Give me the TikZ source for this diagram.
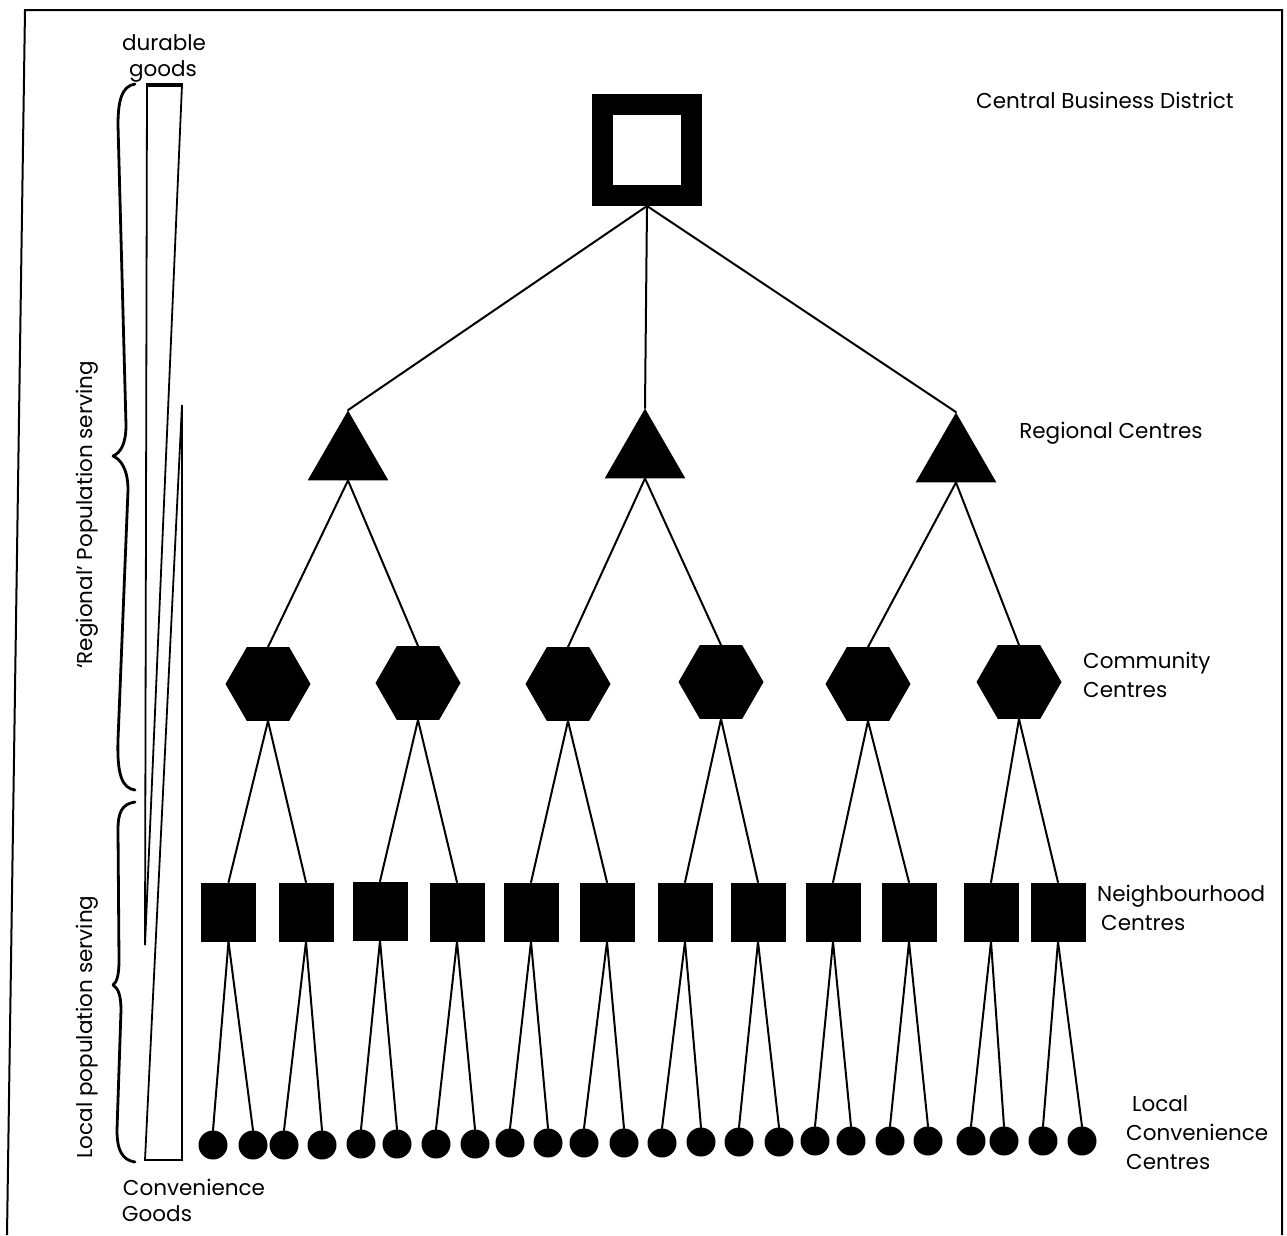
\documentclass[tikz,border=0pt]{standalone}
\usepackage{fontspec}
\setmainfont{Poppins}
\usetikzlibrary{shapes.geometric}
\begin{document}
\begin{tikzpicture}[x=1pt,y=-1pt,
  conn/.style={line width=2pt,line cap=round},
  lbl/.style={inner sep=0pt,font=\fontsize{21.5}{29}\selectfont},
  cbdbox/.style={draw,line width=21pt,minimum width=89pt,minimum height=91pt,inner sep=0pt},
  tri/.style={regular polygon,regular polygon sides=3,fill=black,minimum size=93pt,inner sep=0pt},
  hexa/.style={regular polygon,regular polygon sides=6,fill=black,minimum size=85pt,inner sep=0pt},
  sqr/.style={rectangle,fill=black,minimum width=55pt,minimum height=59pt,inner sep=0pt},
  dot/.style={circle,fill=black,minimum size=29pt,inner sep=0pt},
  brc/.style={line width=2.8pt,line cap=round,line join=round}
]
\useasboundingbox (0,0) rectangle (1287,1235);
% frame
\draw[line width=2pt] (7,1235) -- (25,10) -- (1282,10) -- (1282,1235);

% nodes
\node[cbdbox] (cbd) at (647,150) {};
\node[tri] (r1) at (348,457) {};
\node[tri] (r2) at (645,455) {};
\node[tri] (r3) at (956,459) {};
\foreach \i/\x/\y in {1/268/684,2/418/683,3/568/684,4/721/682,5/868/684,6/1019/682}
  \node[hexa] (c\i) at (\x,\y) {};
\foreach \i/\x/\y in {1/228.5/912,2/306/912,3/380/911,4/457/912,5/531/912,6/607/912,7/685/912,8/758/912,9/833/912,10/909/912,11/991/912,12/1058/912}
  \node[sqr] (n\i) at (\x,\y) {};
\foreach \i/\x/\y in {1/213/1145,2/253/1145,3/284/1145,4/322/1145,5/361/1144,6/397/1144,7/436/1144,8/475/1144,9/510/1143,10/548/1143,11/584/1143,12/624/1143,13/662/1143,14/701/1142,15/739/1142,16/779/1142,17/815/1141,18/851/1141,19/890/1141,20/928/1141,21/971/1141,22/1004/1141,23/1043/1141,24/1082/1141}
  \node[dot] (l\i) at (\x,\y) {};

% connectors
\foreach \j in {1,2,3} \draw[conn] (cbd.south) -- (r\j.north);
\foreach \p/\a/\b in {1/1/2,2/3/4,3/5/6} {
  \draw[conn] (r\p.south) -- (c\a.north);
  \draw[conn] (r\p.south) -- (c\b.north);
}
\foreach \p in {1,...,6} {
  \pgfmathtruncatemacro{\a}{2*\p-1}
  \pgfmathtruncatemacro{\b}{2*\p}
  \draw[conn] (c\p.south) -- (n\a.north);
  \draw[conn] (c\p.south) -- (n\b.north);
}
\foreach \p in {1,...,12} {
  \pgfmathtruncatemacro{\a}{2*\p-1}
  \pgfmathtruncatemacro{\b}{2*\p}
  \draw[conn] (n\p.south) -- (l\a.north);
  \draw[conn] (n\p.south) -- (l\b.north);
}

% wedges
\draw[line width=1.8pt] (147,85) -- (145,945);
\draw[line width=1.8pt] (182,85) -- (145,945);
\draw[line width=3.5pt] (146,85) -- (183,85);
\draw[line width=1.8pt] (182,405) -- (182,1160);
\draw[line width=1.8pt] (182,405) -- (145,1160);
\draw[line width=2.6pt] (144,1160) -- (183,1160);

% braces
\draw[brc] (135,84) .. controls (122,86) and (118,100) .. (118,125) -- (126,425)
  .. controls (126,445) and (120,453) .. (113,456)
  .. controls (120,459) and (128,468) .. (128,490) -- (118,740)
  .. controls (117,775) and (122,788) .. (135,790);
\draw[brc] (135,802) .. controls (122,804) and (118,812) .. (118,830) -- (119,960)
  .. controls (119,975) and (117,982) .. (113,985)
  .. controls (118,988) and (121,995) .. (121,1010) -- (117,1130)
  .. controls (117,1150) and (122,1160) .. (135,1162);

% labels
\node[lbl] (tdur1) at (164,43) {durable};
\node[lbl] (tdur2) at (163,71) {goods};
\node[lbl] (tcon1) at (194,1187) {Convenience};
\node[lbl] (tcon2) at (157,1214) {Goods};
\node[lbl,rotate=90] (treg) at (87,515) {`Regional' Population serving};
\node[lbl,rotate=90] (tloc) at (87,1027) {Local population serving};
\node[lbl] (tcbd) at (1105,100) {Central Business District};
\node[lbl] (trc) at (1111,433) {Regional Centres};
\node[lbl,align=left,anchor=west] (tcc) at (1083,675) {Community\\Centres};
\node[lbl,align=left,anchor=west] (tnc) at (1097,908) {Neighbourhood\\\hspace*{4pt}Centres};
\node[lbl,align=left,anchor=west] (tlc) at (1126,1133) {\hspace*{6pt}Local\\Convenience\\Centres};
\end{tikzpicture}
\end{document}
